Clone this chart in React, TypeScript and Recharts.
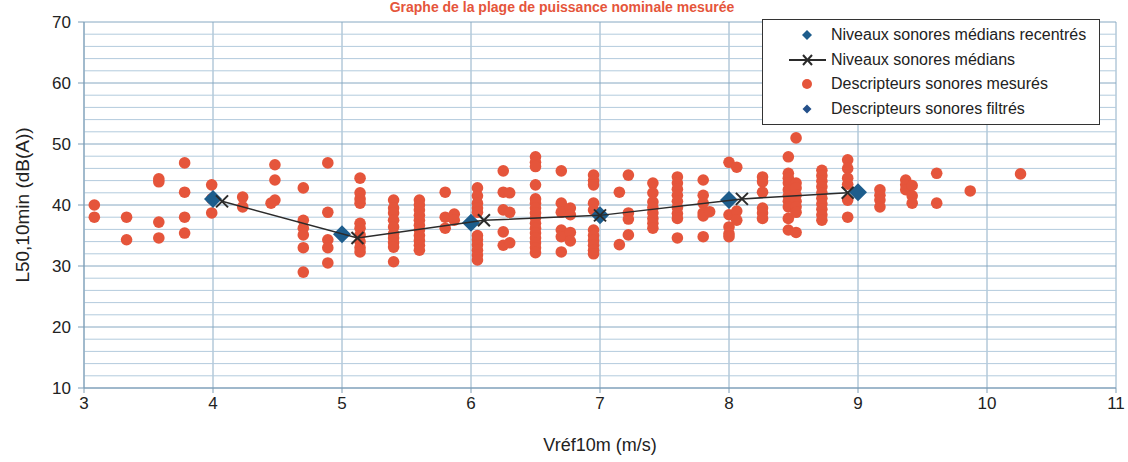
import {
  ScatterChart,
  Scatter,
  XAxis,
  YAxis,
  CartesianGrid,
  ReferenceLine,
  Label,
} from "recharts";

// colonnes de points mesurés : [vitesse, niveaux...]
const measuredColumns: [number, number[]][] = [
  [3.08, [40, 38]],
  [3.33, [38, 34.3]],
  [3.58, [44.3, 43.8, 37.2, 34.6]],
  [3.78, [46.9, 42.1, 38, 35.4]],
  [3.99, [43.3, 41, 38.7]],
  [4.23, [41.3, 39.7]],
  [4.45, [40.3]],
  [4.48, [46.6, 44.1, 40.8]],
  [4.7, [42.8, 37.5, 36.2, 35.1, 33, 29]],
  [4.89, [46.9, 38.8, 34.3, 33, 30.5]],
  [5.14, [44.4, 42, 41, 40.3, 37, 36.2, 35.1, 34, 33, 32.3]],
  [5.4, [40.8, 39.5, 38.7, 37.5, 36.4, 35.3, 34.6, 33.8, 33.1, 30.7]],
  [5.6, [40.8, 40, 39.2, 38.3, 37.5, 36.7, 35.9, 35, 34.2, 33.4, 32.6]],
  [5.8, [42.1, 38, 36.2]],
  [5.87, [38.5, 37.5]],
  [6.05, [42.8, 41.5, 40.3, 39.5, 38.8, 35, 34.3, 33.5, 32.6, 31.8, 31]],
  [6.25, [45.6, 42.1, 39.2, 35.6, 33.4]],
  [6.3, [42, 38.8, 33.8]],
  [6.5, [47.9, 47, 46.3, 43.3, 41, 40.3, 39.5, 38.7, 37.9, 37, 36.2, 35.4, 34.6, 33.8, 33, 32.2]],
  [6.7, [45.6, 40.3, 38.8, 35.9, 34.8, 32.3]],
  [6.77, [39.5, 38.4, 35.5, 34.1]],
  [6.95, [44.9, 44, 43.3, 40.3, 39.2, 35.9, 35, 34.2, 33.4, 32.6, 32]],
  [7.15, [42.1, 33.5]],
  [7.22, [44.9, 38.7, 37.7, 35.1]],
  [7.41, [43.6, 42, 40.5, 39.6, 38.7, 37.8, 37, 36.2]],
  [7.6, [44.6, 43.6, 42.6, 41.6, 40.6, 39.6, 38.6, 37.8, 34.6]],
  [7.8, [44.1, 41.6, 40.3, 38.7, 38.2, 34.8]],
  [7.85, [38.9]],
  [8.0, [47, 38.4, 36.4, 35.3, 34.8]],
  [8.06, [46.2, 39, 37.5]],
  [8.26, [44.6, 43.8, 42.1, 39.5, 38.7, 37.8]],
  [8.46, [47.9, 45.2, 44.4, 43.6, 42.5, 41.5, 40.6, 39.7, 37.8, 35.9]],
  [8.52, [51, 43.6, 42.8, 41.6, 40.6, 39.7, 38.8, 35.5]],
  [8.72, [45.7, 44.8, 43.9, 43, 42, 41.1, 40.2, 39.3, 38.4, 37.5]],
  [8.92, [47.4, 46, 44.4, 43.4, 40.8, 38]],
  [9.17, [42.5, 41.6, 40.8, 39.7]],
  [9.37, [44.1, 43.3, 42.5]],
  [9.42, [43.2, 41.5, 40.3]],
  [9.61, [45.2, 40.3]],
  [9.87, [42.3]],
  [10.26, [45.1]],
];

const medianX = [4.07, 5.12, 6.1, 7.0, 8.1, 8.92];
const medianY = [40.6, 34.6, 37.5, 38.3, 41.0, 42.0];

const recenteredX = [4, 5, 6, 7, 8, 9];
const recenteredY = [41, 35.2, 37.1, 38.3, 40.8, 42.1];

const xTicks = [3, 4, 5, 6, 7, 8, 9, 10, 11];
const yTicks = [10, 20, 30, 40, 50, 60, 70];
const yMinorLines = [
  12, 14, 16, 18, 22, 24, 26, 28, 32, 34, 36, 38, 42, 44, 46, 48, 52, 54, 56, 58, 62, 64, 66, 68,
];

const legendItems = [
  { label: "Niveaux sonores médians recentrés", kind: "diamond" },
  { label: "Niveaux sonores médians", kind: "line" },
  { label: "Descripteurs sonores mesurés", kind: "dot" },
  { label: "Descripteurs sonores filtrés", kind: "small" },
];

const measured = measuredColumns.flatMap(([x, ys]) => ys.map((y) => ({ x, y })));
const medians = medianX.map((x, i) => ({ x, y: medianY[i] }));
const recentered = recenteredX.map((x, i) => ({ x, y: recenteredY[i] }));

const RED = "#e5553b";
const BLUE = "#1d5d8c";
const FONT = "'Liberation Sans', Arial, sans-serif";
const TEXT = "#222";

const Dot = ({ cx, cy }: any) => <circle cx={cx} cy={cy} r={5.8} fill={RED} />;

const Diamond = ({ cx, cy }: any) => (
  <polygon
    points={`${cx},${cy - 9} ${cx + 9},${cy} ${cx},${cy + 9} ${cx - 9},${cy}`}
    fill={BLUE}
  />
);

const Cross = ({ cx, cy }: any) => (
  <g stroke="#2b2b2b" strokeWidth={2}>
    <line x1={cx - 6} y1={cy - 6} x2={cx + 6} y2={cy + 6} />
    <line x1={cx - 6} y1={cy + 6} x2={cx + 6} y2={cy - 6} />
  </g>
);

// légende dessinée à part, pour ne pas réduire la zone du graphe
const LegendBox = () => (
  <div
    style={{
      position: "absolute",
      left: 762,
      top: 19,
      border: "1.5px solid #333",
      background: "#fff",
      width: 338,
      height: 106,
      boxSizing: "border-box",
      padding: "3px 0 0 0",
      fontFamily: FONT,
      fontSize: 16,
      color: TEXT,
    }}
  >
    {legendItems.map((it) => (
      <div key={it.label} style={{ display: "flex", alignItems: "center", height: 24.5 }}>
        <svg width={66} height={20}>
          {it.kind === "diamond" && <polygon points="44,5 49,10 44,15 39,10" fill={BLUE} />}
          {it.kind === "line" && (
            <g stroke="#2b2b2b" strokeWidth={2}>
              <line x1={26} y1={10} x2={63} y2={10} />
              <line x1={40} y1={5} x2={49} y2={15} />
              <line x1={40} y1={15} x2={49} y2={5} />
            </g>
          )}
          {it.kind === "dot" && <circle cx={44} cy={10} r={5} fill={RED} />}
          {it.kind === "small" && <polygon points="44,5.5 48.5,10 44,14.5 39.5,10" fill="#24508a" />}
        </svg>
        <span style={{ marginLeft: 2 }}>{it.label}</span>
      </div>
    ))}
  </div>
);

export default function App() {
  return (
    <div style={{ position: "absolute", left: 0, top: 0, width: 1128, height: 462, background: "#fff" }}>
      <ScatterChart
        width={1128}
        height={462}
        margin={{ top: 22, right: 12, bottom: 44, left: 20 }}
        style={{ position: "absolute", left: 0, top: 0 }}
      >
        <CartesianGrid horizontal={false} stroke="#8eaec6" strokeWidth={1} />
        {yMinorLines.map((v) => (
          <ReferenceLine key={v} y={v} stroke="#b3cbdd" strokeWidth={1} />
        ))}
        {yTicks.map((v) => (
          <ReferenceLine key={"m" + v} y={v} stroke="#86a8c2" strokeWidth={1} />
        ))}
        <XAxis
          type="number"
          dataKey="x"
          domain={[3, 11]}
          ticks={xTicks}
          height={30}
          tickSize={5}
          tickMargin={4}
          stroke="#7c9db6"
          tick={{ fill: TEXT, fontSize: 17, fontFamily: FONT }}
        >
          <Label
            content={({ viewBox }: any) => (
              <text
                x={viewBox.x + viewBox.width / 2}
                y={viewBox.y + 63}
                textAnchor="middle"
                fontFamily={FONT}
                fontSize={18}
                fill={TEXT}
              >
                Vréf10m (m/s)
              </text>
            )}
          />
        </XAxis>
        <YAxis
          type="number"
          dataKey="y"
          domain={[10, 70]}
          ticks={yTicks}
          width={64}
          tickSize={6}
          tickMargin={7}
          stroke="#7c9db6"
          tick={{ fill: TEXT, fontSize: 17, fontFamily: FONT }}
        >
          <Label
            content={({ viewBox }: any) => {
              const cx = 22;
              const cy = viewBox.y + viewBox.height / 2;
              return (
                <text
                  x={cx}
                  y={cy}
                  transform={`rotate(-90 ${cx} ${cy})`}
                  textAnchor="middle"
                  dominantBaseline="central"
                  fontFamily={FONT}
                  fontSize={19}
                  fill={TEXT}
                >
                  L50,10min (dB(A))
                </text>
              );
            }}
          />
        </YAxis>
        <Scatter
          name="Descripteurs sonores mesurés"
          data={measured}
          shape={Dot}
          isAnimationActive={false}
        />
        <Scatter
          name="Niveaux sonores médians recentrés"
          data={recentered}
          shape={Diamond}
          isAnimationActive={false}
        />
        <Scatter
          name="Niveaux sonores médians"
          data={medians}
          shape={Cross}
          line={{ stroke: "#2b2b2b", strokeWidth: 1.5 }}
          isAnimationActive={false}
        />
      </ScatterChart>
      <svg width={1128} height={18} style={{ position: "absolute", left: 0, top: 0 }}>
        <text
          x={562}
          y={12}
          textAnchor="middle"
          fontFamily={FONT}
          fontSize={14}
          fontWeight="bold"
          fill={RED}
        >
          Graphe de la plage de puissance nominale mesurée
        </text>
      </svg>
      <LegendBox />
    </div>
  );
}
